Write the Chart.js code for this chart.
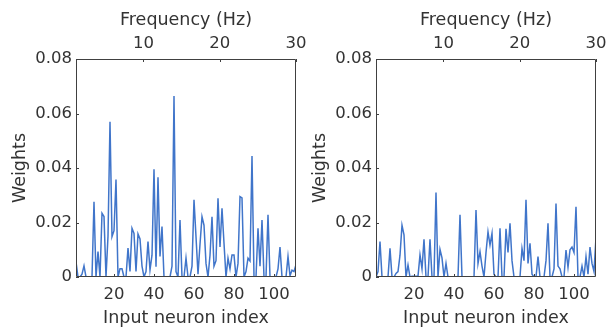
<!DOCTYPE html>
<html><head><meta charset="utf-8">
<script src="https://cdn.jsdelivr.net/npm/chart.js@4"></script>
<style>
html,body{margin:0;padding:0;background:#fff;}
#wrap{position:relative;width:606px;height:331px;overflow:hidden;background:#fff;}
canvas{position:absolute;top:0;}
</style></head><body>
<div id="wrap">
<canvas id="c1" width="320" height="331" style="left:0;width:320px;height:331px"></canvas>
<canvas id="c2" width="306" height="331" style="left:300px;width:306px;height:331px"></canvas>
</div>
<script>
// ---- data ----
const weightsLeft = [
 0.0056,0,0,0.001,0.0041,0,0,0,0,0.0276,
 0,0.0093,0,0.0234,0.0222,0,0.015,0.057,0.0148,0.017,
 0.0358,0,0.003,0.003,0,0,0.0106,0.002,0.0179,0.016,
 0.002,0.0158,0.014,0.004,0,0.002,0.013,0.0026,0.008,0.0395,
 0.0038,0.0366,0.0075,0.0185,0,0,0,0,0.004,0.0664,
 0.002,0,0.0209,0,0,0.0069,0,0,0.004,0.0283,
 0.0148,0.001,0.012,0.0221,0.019,0.005,0,0.008,0.0221,0.004,
 0.006,0.0289,0.011,0.0252,0.0124,0,0.0069,0.003,0.0081,0.0081,
 0,0.005,0.0295,0.029,0,0.002,0.0069,0.0059,0.0444,0,
 0,0.0179,0.004,0.0209,0,0,0.0228,0,0,0,
 0,0.003,0.011,0,0,0,0.0075,0.0005,0.0025,0.002,
 0.0045,0.005
];
const weightsRight = [
 0,0.002,0.013,0,0,0,0,0.0105,0,0,
 0.0013,0.002,0.008,0.019,0.0155,0,0.0044,0,0.0003,0.0003,
 0.0003,0.0003,0.0081,0.003,0.0138,0,0,0.0138,0,0,
 0.031,0,0.0101,0.007,0,0.005,0,0,0,0,
 0,0,0.0228,0,0,0,0,0,0,0,
 0.0246,0.005,0.0093,0.004,0,0.009,0.0166,0.0117,0.016,0.001,
 0,0,0.0179,0,0,0.0177,0.009,0.0197,0.006,0,
 0,0,0,0.0105,0.006,0.0283,0.005,0.0124,0.001,0,
 0,0.0075,0,0,0,0.006,0.0197,0,0,0.003,
 0.027,0.004,0.003,0,0,0.0099,0.0035,0.01,0.011,0.009,
 0.0258,0,0,0.004,0,0.0075,0.001,0.011,0.005,0.002,
 0.0145,0.015
];
const neuronIndex = Array.from({length: weightsLeft.length}, (_, i) => i + 1);
const xTickValues = [20, 40, 60, 80, 100];
const yTickValues = [0, 0.02, 0.04, 0.06, 0.08];
const freqTickValues = [10, 20, 30];
const xRange = [1, 111];
const freqRange = [1.15, 30];
const yRange = [0, 0.08];
const xTitle = 'Input neuron index';
const yTitle = 'Weights';
const topTitle = 'Frequency (Hz)';

// ---- styling ----
const FAM = '"DejaVu Sans", sans-serif';
const TXT = '#333333';
const tickFont = {family: FAM, size: 16.5};
const titleFont = {family: FAM, size: 17.5};

const framePlugin = {
  id: 'frame',
  afterDraw(chart) {
    const {ctx, chartArea: a, scales} = chart;
    ctx.save();
    ctx.strokeStyle = '#404040';
    ctx.lineWidth = 1;
    ctx.beginPath();
    ctx.rect(Math.round(a.left) + 0.5, Math.round(a.top) + 0.5,
             Math.round(a.right - a.left) - 1, Math.round(a.bottom - a.top) - 1);
    ctx.stroke();
    const L = 3;
    ctx.beginPath();
    scales.x.ticks.forEach(t => {
      const p = Math.round(scales.x.getPixelForValue(t.value)) + 0.5;
      ctx.moveTo(p, a.bottom); ctx.lineTo(p, a.bottom - L);
    });
    scales.xTop.ticks.forEach(t => {
      const p = Math.round(scales.xTop.getPixelForValue(t.value)) + 0.5;
      ctx.moveTo(p, a.top); ctx.lineTo(p, a.top + L);
    });
    scales.y.ticks.forEach(t => {
      const p = Math.round(scales.y.getPixelForValue(t.value)) + 0.5;
      ctx.moveTo(a.left, p); ctx.lineTo(a.left + L, p);
    });
    ctx.stroke();
    ctx.restore();
  }
};

function makeChart(id, values, padRight) {
  const pts = neuronIndex.map((x, i) => ({x, y: values[i]}));
  return new Chart(document.getElementById(id), {
    type: 'line',
    data: {datasets: [{
      data: pts,
      borderColor: '#4075ca',
      borderWidth: 1.5,
      pointRadius: 0,
      tension: 0,
      fill: false
    }]},
    options: {
      responsive: false,
      animation: false,
      devicePixelRatio: 1,
      layout: {padding: {left: 0, top: 0, bottom: 0, right: padRight}},
      plugins: {legend: {display: false}, tooltip: {enabled: false}},
      scales: {
        x: {
          type: 'linear', position: 'bottom', min: xRange[0], max: xRange[1],
          afterBuildTicks: s => { s.ticks = xTickValues.map(v => ({value: v})); },
          ticks: {font: tickFont, color: TXT, padding: 8, maxRotation: 0, autoSkip: false,
                  callback: v => String(v)},
          grid: {display: false, drawTicks: false},
          border: {display: false},
          title: {display: true, text: xTitle, font: titleFont, color: TXT,
                  padding: {top: 0, bottom: 2}},
          afterFit: s => { s.height = 54; s.paddingLeft = 0; s.paddingRight = 0; }
        },
        xTop: {
          type: 'linear', position: 'top', min: freqRange[0], max: freqRange[1],
          afterBuildTicks: s => { s.ticks = freqTickValues.map(v => ({value: v})); },
          ticks: {font: tickFont, color: TXT, padding: 5, maxRotation: 0, autoSkip: false,
                  callback: v => String(v)},
          grid: {display: false, drawTicks: false},
          border: {display: false},
          title: {display: true, text: topTitle, font: titleFont, color: TXT,
                  padding: {top: 10, bottom: 0}},
          afterFit: s => { s.height = 59; s.paddingLeft = 0; s.paddingRight = 0; }
        },
        y: {
          type: 'linear', position: 'left', min: yRange[0], max: yRange[1],
          afterBuildTicks: s => { s.ticks = yTickValues.map(v => ({value: v})); },
          ticks: {font: tickFont, color: TXT, padding: 4, autoSkip: false,
                  callback: v => (v === 0 ? '0' : v.toFixed(2))},
          grid: {display: false, drawTicks: false},
          border: {display: false},
          title: {display: true, text: yTitle, font: titleFont, color: TXT,
                  padding: {top: 9.5, bottom: 0}},
          afterFit: s => { s.width = 76; s.paddingTop = 0; s.paddingBottom = 0; }
        }
      }
    },
    plugins: [framePlugin]
  });
}

makeChart('c1', weightsLeft, 24);
makeChart('c2', weightsRight, 10);
</script>
</body></html>
